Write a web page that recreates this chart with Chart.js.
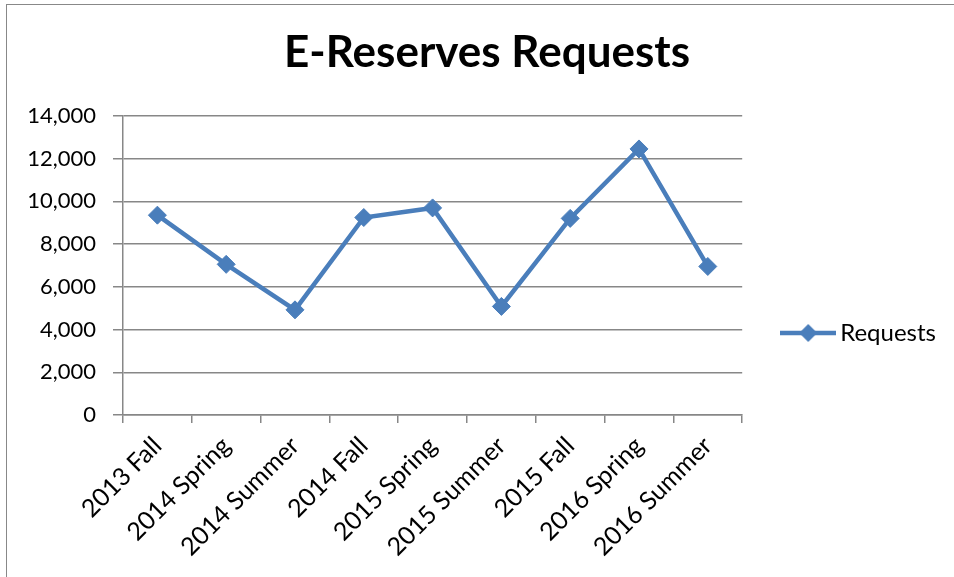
<!DOCTYPE html>
<html>
<head>
<meta charset="utf-8">
<script src="https://cdn.jsdelivr.net/npm/chart.js@4"></script>
<style>
  html, body { margin: 0; padding: 0; background: #fff; }
  #frame {
    position: absolute; left: 6px; top: 4px; width: 960px; height: 590px;
    border-left: 1.5px solid #888; border-top: 1.5px solid #888;
  }
  #wrap { position: absolute; left: 0; top: 0; width: 954px; height: 577px; }
</style>
</head>
<body>
<div id="frame"></div>
<div id="wrap"><canvas id="chart" width="954" height="577"></canvas></div>
<script>
// 데이터
const terms = ['2013 Fall', '2014 Spring', '2014 Summer', '2014 Fall', '2015 Spring',
               '2015 Summer', '2015 Fall', '2016 Spring', '2016 Summer'];
const requests = [9350, 7050, 4920, 9240, 9690, 5080, 9200, 12450, 6950];
const yTicks = [0, 2000, 4000, 6000, 8000, 10000, 12000, 14000];

const BLUE = '#4a7ebb';
const GRID = '#878787';
const FONT = 'Lato, "Open Sans", sans-serif';

// 범례 마커 (선 + 마름모)
const marker = document.createElement('canvas');
marker.width = 56; marker.height = 22;
(() => {
  const m = marker.getContext('2d');
  m.strokeStyle = BLUE; m.lineWidth = 4.5;
  m.beginPath(); m.moveTo(0, 11); m.lineTo(56, 11); m.stroke();
  m.fillStyle = BLUE;
  m.beginPath(); m.moveTo(28, 2); m.lineTo(37, 11); m.lineTo(28, 20); m.lineTo(19, 11); m.closePath(); m.fill();
})();

const ctx = document.getElementById('chart').getContext('2d');
new Chart(ctx, {
  type: 'line',
  data: {
    labels: terms,
    datasets: [{
      label: 'Requests',
      data: requests,
      borderColor: BLUE,
      backgroundColor: BLUE,
      borderWidth: 4.5,
      pointStyle: 'rectRot',
      pointRadius: 9,
      pointBorderWidth: 1,
      fill: false,
      tension: 0
    }]
  },
  options: {
    responsive: false,
    animation: false,
    layout: { padding: { top: 10, right: 8, bottom: 0, left: 28 } },
    scales: {
      x: {
        offset: true,
        grid: { display: true, drawOnChartArea: false, drawTicks: true, tickLength: 8, color: GRID, lineWidth: 1.5, offset: true },
        border: { color: GRID, width: 1.5 },
        ticks: { color: '#000', font: { family: FONT, size: 25 }, minRotation: 45, maxRotation: 45, padding: 8, autoSkip: false },
        afterFit: s => { s.height = 162; }
      },
      y: {
        min: 0, max: 14000,
        afterBuildTicks: s => { s.ticks = yTicks.map(v => ({ value: v })); },
        grid: { color: GRID, lineWidth: 1.5, tickLength: 10 },
        border: { color: GRID, width: 1.5 },
        ticks: { color: '#000', font: { family: FONT, size: 22 }, padding: 17,
                 callback: v => v.toLocaleString('en-US') },
        afterFit: s => { s.width = 95; }
      }
    },
    plugins: {
      title: {
        display: true,
        text: 'E-Reserves Requests',
        color: '#000',
        font: { family: FONT, size: 44, weight: 'bold', lineHeight: 1.2 },
        padding: { top: 16, bottom: 37 }
      },
      legend: {
        position: 'right',
        align: 'start',
        title: { display: true, text: ' ', font: { size: 10, lineHeight: 1 }, padding: { top: 255, bottom: 0 } },
        labels: {
          usePointStyle: true,
          pointStyle: marker,
          pointStyleWidth: 40,
          padding: 46,
          color: '#000',
          font: { family: FONT, size: 24 }
        }
      },
      tooltip: { enabled: false }
    }
  }
});
</script>
</body>
</html>
